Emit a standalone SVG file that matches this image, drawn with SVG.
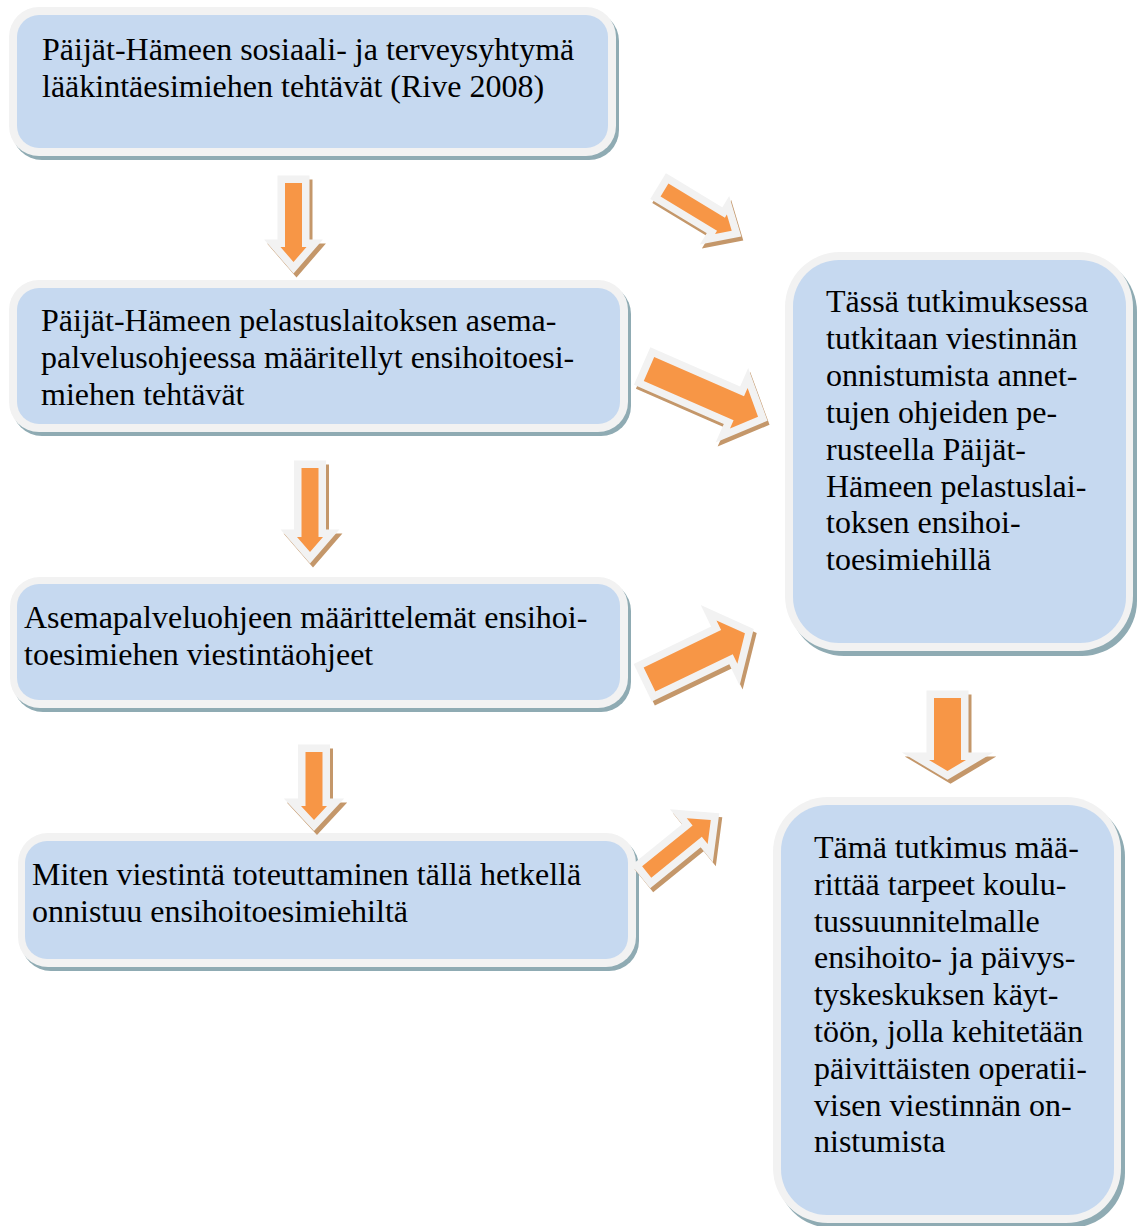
<svg xmlns="http://www.w3.org/2000/svg" xmlns:xlink="http://www.w3.org/1999/xlink" width="1139" height="1226" viewBox="0 0 1139 1226">
<style>
.bsh{fill:#8fabb3}
.bout{fill:#f2f2f2}
.bin{fill:#c6d9f0}
.t{font-family:"Liberation Serif","Times New Roman",serif;font-size:32px;fill:#000}
.ash{fill:#c4976a;stroke:#c4976a;stroke-width:15;stroke-linejoin:miter;stroke-miterlimit:10}
.aout{fill:#f2f2f2;stroke:#f2f2f2;stroke-width:15;stroke-linejoin:miter;stroke-miterlimit:10}
.ain{fill:#f79646;stroke:none}
</style>
<defs>
<polygon id="pd1" points="285,183 302,183 302,247 306.5,247 293.5,262 280.5,247 285,247"/>
<polygon id="pd2" points="301.5,468 318.5,468 318.5,537 323,537 310,552 297,537 301.5,537"/>
<polygon id="pd3" points="305.5,752 322.5,752 322.5,806 327,806 314,820 301,806 305.5,806"/>
<polygon id="pd4" points="934,698 961,698 961,760 966,760 947.5,771 929,760 934,760"/>
<polygon id="pa" transform="translate(664.5,190) rotate(31.2)" points="0,-7.6 66,-7.6 66,-11.4 78.6,0 66,11.4 66,7.6 0,7.6"/>
<polygon id="pb" transform="translate(649,369) rotate(23.6)" points="0,-13 98,-13 98,-22 119,0 98,22 98,13 0,13"/>
<polygon id="pc" transform="translate(649.5,679.5) rotate(-25.8)" points="0,-13.4 86,-13.4 86,-24 106,0 86,24 86,13.4 0,13.4"/>
<polygon id="pe" transform="translate(646.7,872) rotate(-39)" points="0,-7.3 65,-7.3 65,-16.6 82.5,0 65,16.6 65,7.3 0,7.3"/>
</defs>

<g id="node-1">
<rect class="bsh" x="12" y="11" width="607" height="149" rx="30"/>
<rect class="bout" x="9" y="7" width="607" height="149" rx="30"/>
<rect class="bin" x="17" y="15" width="591" height="133" rx="22"/>
<text class="t" x="42" y="60">Päijät-Hämeen sosiaali- ja terveysyhtymä</text>
<text class="t" x="42" y="97">lääkintäesimiehen tehtävät (Rive 2008)</text>
</g>

<g id="node-2">
<rect class="bsh" x="12" y="284" width="619" height="152" rx="30"/>
<rect class="bout" x="9" y="280" width="619" height="152" rx="30"/>
<rect class="bin" x="17" y="288" width="603" height="136" rx="22"/>
<text class="t" x="41" y="331">Päijät-Hämeen pelastuslaitoksen asema-</text>
<text class="t" x="41" y="368">palvelusohjeessa määritellyt ensihoitoesi-</text>
<text class="t" x="41" y="405">miehen tehtävät</text>
</g>

<g id="node-3">
<rect class="bsh" x="13" y="581" width="618" height="131" rx="30"/>
<rect class="bout" x="10" y="577" width="618" height="131" rx="30"/>
<rect class="bin" x="17" y="584" width="603" height="116" rx="22"/>
<text class="t" x="24" y="628">Asemapalveluohjeen määrittelemät ensihoi-</text>
<text class="t" x="24" y="665">toesimiehen viestintäohjeet</text>
</g>

<g id="node-4">
<rect class="bsh" x="21" y="837" width="618" height="134" rx="30"/>
<rect class="bout" x="18" y="833" width="618" height="134" rx="30"/>
<rect class="bin" x="25" y="841" width="603" height="118" rx="22"/>
<text class="t" x="32" y="885">Miten viestintä toteuttaminen tällä hetkellä</text>
<text class="t" x="32" y="922">onnistuu ensihoitoesimiehiltä</text>
</g>

<g id="node-5">
<rect class="bsh" x="789" y="257" width="348" height="399" rx="55"/>
<rect class="bout" x="785" y="252" width="348" height="399" rx="55"/>
<rect class="bin" x="793" y="260" width="333" height="383" rx="46"/>
<text class="t" x="826" y="312">Tässä tutkimuksessa</text>
<text class="t" x="826" y="349">tutkitaan viestinnän</text>
<text class="t" x="826" y="386">onnistumista annet-</text>
<text class="t" x="826" y="423">tujen ohjeiden pe-</text>
<text class="t" x="826" y="460">rusteella Päijät-</text>
<text class="t" x="826" y="497">Hämeen pelastuslai-</text>
<text class="t" x="826" y="533">toksen ensihoi-</text>
<text class="t" x="826" y="570">toesimiehillä</text>
</g>

<g id="node-6">
<rect class="bsh" x="777" y="802" width="348" height="426" rx="55"/>
<rect class="bout" x="773" y="797" width="348" height="426" rx="55"/>
<rect class="bin" x="781" y="805" width="333" height="410" rx="46"/>
<text class="t" x="814" y="858">Tämä tutkimus mää-</text>
<text class="t" x="814" y="895">rittää tarpeet koulu-</text>
<text class="t" x="814" y="932">tussuunnitelmalle</text>
<text class="t" x="814" y="968">ensihoito- ja päivys-</text>
<text class="t" x="814" y="1005">tyskeskuksen käyt-</text>
<text class="t" x="814" y="1042">töön, jolla kehitetään</text>
<text class="t" x="814" y="1079">päivittäisten operatii-</text>
<text class="t" x="814" y="1116">visen viestinnän on-</text>
<text class="t" x="814" y="1152">nistumista</text>
</g>

<g id="connectors">
<g id="arrow-d1"><use href="#pd1" class="ash" transform="translate(3,4)"/><use href="#pd1" class="aout"/><use href="#pd1" class="ain"/></g>
<g id="arrow-d2"><use href="#pd2" class="ash" transform="translate(3,4)"/><use href="#pd2" class="aout"/><use href="#pd2" class="ain"/></g>
<g id="arrow-d3"><use href="#pd3" class="ash" transform="translate(3,4)"/><use href="#pd3" class="aout"/><use href="#pd3" class="ain"/></g>
<g id="arrow-d4"><use href="#pd4" class="ash" transform="translate(3,4)"/><use href="#pd4" class="aout"/><use href="#pd4" class="ain"/></g>
<g id="arrow-a"><use href="#pa" class="ash" transform="translate(2,4)"/><use href="#pa" class="aout"/><use href="#pa" class="ain"/></g>
<g id="arrow-b"><use href="#pb" class="ash" transform="translate(2,4)"/><use href="#pb" class="aout"/><use href="#pb" class="ain"/></g>
<g id="arrow-c"><use href="#pc" class="ash" transform="translate(3,4)"/><use href="#pc" class="aout"/><use href="#pc" class="ain"/></g>
<g id="arrow-e"><use href="#pe" class="ash" transform="translate(3,4)"/><use href="#pe" class="aout"/><use href="#pe" class="ain"/></g>
</g>
</svg>
